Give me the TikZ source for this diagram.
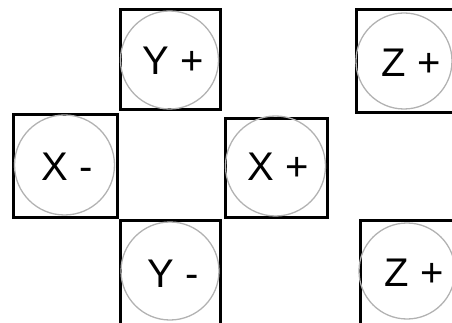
\documentclass[tikz,border=0pt]{standalone}
\usepackage{fontspec}
\setmainfont{Liberation Sans}
\begin{document}
\begin{tikzpicture}[x=1pt,y=-1pt,
  cell/.style={draw=black,line width=3pt,rectangle,minimum width=#1,minimum height=100pt,inner sep=0pt},
  cell/.default=100pt,
  disc/.style={draw=gray!60,line width=1.3pt,circle,minimum size=#1,inner sep=0pt},
  disc/.default=98pt,
  lab/.style={inner sep=0pt,font=\fontsize{40}{40}\selectfont,text=black}]
\useasboundingbox (0,0) rectangle (452,323);
\clip (0,0) rectangle (452,323);
% boxes
\node[cell] (ypbox) at (170,59.5) {};
\node[cell=104pt,minimum height=102pt] (xmbox) at (65,166) {};
\node[cell=102pt,minimum height=99pt] (xpbox) at (225.5+51,168) {};
\node[cell,minimum height=110pt] (ymbox) at (170,275.7) {};
\node[cell,minimum height=102.7pt] (zptbox) at (406.7,61.3) {};
\node[cell,minimum height=110pt] (zpbbox) at (410,275) {};
% circles
\node[disc] (ypc) at (169.5,60) {};
\node[disc=100pt] (xmc) at (64.5,165) {};
\node[disc=100pt] (xpc) at (275.5,166) {};
\node[disc] (ymc) at (170,271) {};
\node[disc=96pt] (zptc) at (404,61) {};
\node[disc=96pt] (zpbc) at (407,271) {};
% labels
\node[lab] (ypt) at (173.5,61) {Y +};
\node[lab] (xmt) at (67.5,167) {X -};
\node[lab] (xpt) at (278.5,167) {X +};
\node[lab] (ymt) at (173.5,274) {Y -};
\node[lab] (zptt) at (411,63) {Z +};
\node[lab] (zpbt) at (414,273) {Z +};
\end{tikzpicture}
\end{document}
